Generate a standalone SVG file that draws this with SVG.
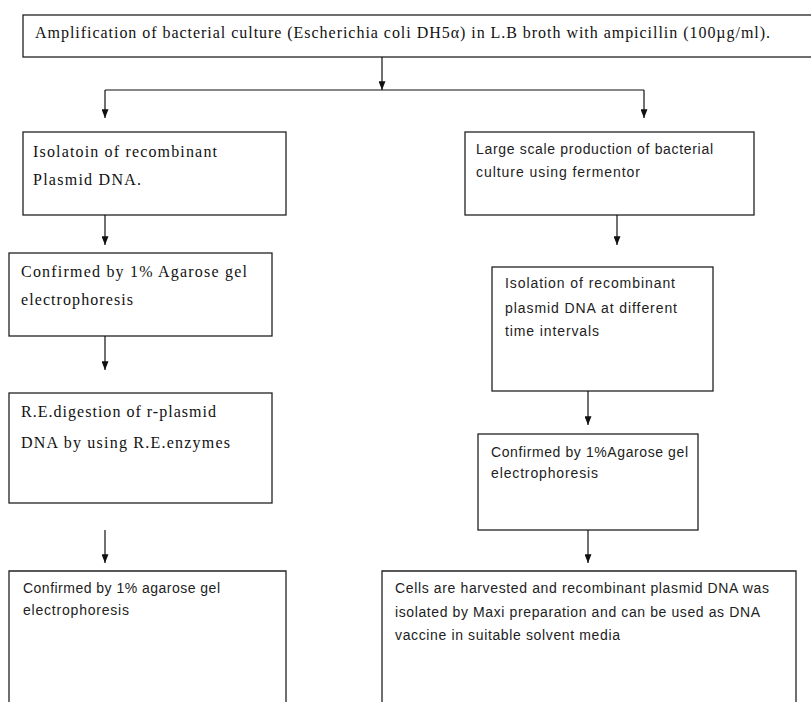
<svg xmlns="http://www.w3.org/2000/svg" width="811" height="702" viewBox="0 0 811 702">
<defs>
<marker id="arr" viewBox="0 0 10 8" refX="10" refY="4" markerWidth="9" markerHeight="7" markerUnits="userSpaceOnUse" orient="auto">
<path d="M0,0 L10,4 L0,8 Z" fill="#111"/>
</marker>
</defs>
<style>
.box{fill:#fff;stroke:#222;stroke-width:1.3}
.open{fill:none;stroke:#222;stroke-width:1.3}
.ser{font-family:"Liberation Serif","Times New Roman",serif;font-size:16px;fill:#111}
.san{font-family:"Liberation Sans",Arial,sans-serif;font-size:14px;fill:#222}
.ln{fill:none;stroke:#111;stroke-width:1.2}
</style>
<rect width="811" height="702" fill="#fff"/>

<g id="top">
<rect class="box" x="23" y="15" width="800" height="42"/>
<text class="ser" x="35" y="38" textLength="735">Amplification of bacterial culture (Escherichia coli DH5α) in L.B broth with ampicillin (100µg/ml).</text>
</g>

<g id="n_isolation">
<rect class="box" x="23" y="132" width="263" height="83"/>
<text class="ser" x="33" y="157" textLength="184">Isolatoin of recombinant</text>
<text class="ser" x="33" y="185" textLength="108">Plasmid DNA.</text>
</g>

<g id="n_confirm1">
<rect class="box" x="9" y="253" width="263" height="83"/>
<text class="ser" x="21" y="277" textLength="226">Confirmed by 1% Agarose gel</text>
<text class="ser" x="21" y="305" textLength="112">electrophoresis</text>
</g>

<g id="n_re">
<rect class="box" x="9" y="393" width="263" height="110"/>
<text class="ser" x="21" y="417" textLength="195">R.E.digestion of r-plasmid</text>
<text class="ser" x="21" y="448" textLength="209">DNA by using R.E.enzymes</text>
</g>

<g id="n_confirm3">
<path class="open" d="M9,705 V571 H286 V705"/>
<text class="san" x="23" y="593" textLength="197">Confirmed by 1% agarose gel</text>
<text class="san" x="23" y="615" textLength="106">electrophoresis</text>
</g>

<g id="n_large">
<rect class="box" x="465" y="132" width="289" height="83"/>
<text class="san" x="476" y="154" textLength="237">Large scale production of bacterial</text>
<text class="san" x="476" y="177" textLength="164">culture using fermentor</text>
</g>

<g id="n_isol2">
<rect class="box" x="492" y="267" width="221" height="124"/>
<text class="san" x="505" y="288" textLength="170">Isolation of recombinant</text>
<text class="san" x="505" y="313" textLength="172">plasmid DNA at different</text>
<text class="san" x="505" y="336" textLength="94">time intervals</text>
</g>

<g id="n_confirm2">
<rect class="box" x="478" y="434" width="220" height="96"/>
<text class="san" x="491" y="457" textLength="197">Confirmed by 1%Agarose gel</text>
<text class="san" x="491" y="478" textLength="107">electrophoresis</text>
</g>

<g id="n_cells">
<path class="open" d="M382,705 V571 H796 V705"/>
<text class="san" x="395" y="593" textLength="374">Cells are harvested and recombinant plasmid DNA was</text>
<text class="san" x="395" y="617" textLength="365">isolated by Maxi preparation and can be used as DNA</text>
<text class="san" x="395" y="640" textLength="225">vaccine in suitable solvent media</text>
</g>

<g id="connectors">
<line class="ln" x1="382" y1="57" x2="382" y2="90" marker-end="url(#arr)"/>
<polyline class="ln" points="105,90 644,90"/>
<line class="ln" x1="105" y1="90" x2="105" y2="118" marker-end="url(#arr)"/>
<line class="ln" x1="644" y1="90" x2="644" y2="118" marker-end="url(#arr)"/>
<line class="ln" x1="105" y1="215" x2="105" y2="245" marker-end="url(#arr)"/>
<line class="ln" x1="105" y1="336" x2="105" y2="370" marker-end="url(#arr)"/>
<line class="ln" x1="105" y1="530" x2="105" y2="563" marker-end="url(#arr)"/>
<line class="ln" x1="617" y1="215" x2="617" y2="245" marker-end="url(#arr)"/>
<line class="ln" x1="588" y1="391" x2="588" y2="425" marker-end="url(#arr)"/>
<line class="ln" x1="588" y1="530" x2="588" y2="563" marker-end="url(#arr)"/>
</g>
</svg>
